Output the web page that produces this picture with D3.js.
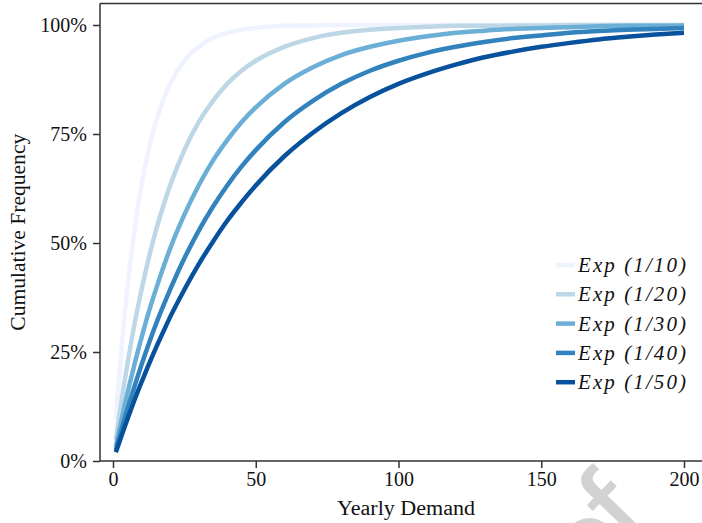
<!DOCTYPE html>
<html>
<head>
<meta charset="utf-8">
<script src="https://cdn.jsdelivr.net/npm/d3@7"></script>
<style>
  html, body { margin: 0; padding: 0; background: #fff; }
  svg { display: block; }
  text { font-family: "Liberation Serif", "DejaVu Serif", serif; fill: #111; }
</style>
</head>
<body>
<svg id="chart" width="702" height="523"></svg>
<script>
// ---- data ----
const demand = [1, 2, 4, 6, 8, 10, 12, 15, 18, 20, 25, 30, 35, 40, 45, 50, 60, 70, 80, 90, 100, 110, 120, 130, 140, 150, 160, 170, 180, 190, 200];
const seriesNames = ["Exp (1/10)", "Exp (1/20)", "Exp (1/30)", "Exp (1/40)", "Exp (1/50)"];
const exp10 = [0.095, 0.181, 0.330, 0.451, 0.551, 0.632, 0.699, 0.777, 0.835, 0.865, 0.918, 0.950, 0.970, 0.982, 0.989, 0.993, 0.998, 0.999, 1.000, 1.000, 1.000, 1.000, 1.000, 1.000, 1.000, 1.000, 1.000, 1.000, 1.000, 1.000, 1.000];
const exp20 = [0.049, 0.095, 0.181, 0.259, 0.330, 0.393, 0.451, 0.528, 0.593, 0.632, 0.713, 0.777, 0.826, 0.865, 0.895, 0.918, 0.950, 0.970, 0.982, 0.989, 0.993, 0.996, 0.998, 0.998, 0.999, 0.999, 1.000, 1.000, 1.000, 1.000, 1.000];
const exp30 = [0.033, 0.064, 0.125, 0.181, 0.234, 0.283, 0.330, 0.393, 0.451, 0.487, 0.565, 0.632, 0.689, 0.736, 0.777, 0.811, 0.865, 0.903, 0.931, 0.950, 0.964, 0.974, 0.982, 0.987, 0.991, 0.993, 0.995, 0.997, 0.998, 0.998, 0.999];
const exp40 = [0.025, 0.049, 0.095, 0.139, 0.181, 0.221, 0.259, 0.313, 0.362, 0.393, 0.465, 0.528, 0.583, 0.632, 0.675, 0.713, 0.777, 0.826, 0.865, 0.895, 0.918, 0.936, 0.950, 0.961, 0.970, 0.976, 0.982, 0.986, 0.989, 0.991, 0.993];
const exp50 = [0.020, 0.039, 0.077, 0.113, 0.148, 0.181, 0.213, 0.259, 0.302, 0.330, 0.393, 0.451, 0.503, 0.551, 0.593, 0.632, 0.699, 0.753, 0.798, 0.835, 0.865, 0.889, 0.909, 0.926, 0.939, 0.950, 0.959, 0.967, 0.973, 0.978, 0.982];
const xTicks = [0, 50, 100, 150, 200];
const yTicks = [0, 0.25, 0.5, 0.75, 1.0];
const colors = ["#eff3ff", "#bdd7e7", "#6baed6", "#3182bd", "#08519c"];

const seriesValues = [exp10, exp20, exp30, exp40, exp50];

// ---- layout ----
const svg = d3.select("#chart");
const plotLeft = 100, plotTop = 3.5, plotBottom = 461, plotRight = 720;

const x = d3.scaleLinear().domain([0, 200]).range([113, 684]);
const y = d3.scaleLinear().domain([0, 1]).range([461, 25]);

// watermark (behind the axes area)
const wm = svg.append("text")
  .attr("transform", "translate(663,531) rotate(-46)")
  .attr("text-anchor", "end")
  .style("font-family", "'Liberation Sans', Arial, sans-serif")
  .style("font-size", "130px")
  .style("fill", "#d2d2d2");
wm.append("tspan").text("Proo");
wm.append("tspan").attr("dx", -8).attr("dy", -4).text("f");

// axes background
svg.append("rect")
  .attr("x", plotLeft).attr("y", plotTop)
  .attr("width", plotRight - plotLeft).attr("height", plotBottom - plotTop)
  .attr("fill", "#fff");

// lines
const line = d3.line()
  .x(d => x(d[0]))
  .y(d => y(d[1]))
  .curve(d3.curveMonotoneX);

seriesValues.forEach((vals, i) => {
  const pts = demand.map((d, j) => [d, vals[j]]);
  svg.append("path")
    .datum(pts)
    .attr("d", line)
    .attr("fill", "none")
    .attr("stroke", colors[i])
    .attr("stroke-width", 4.5)
    .attr("stroke-linecap", "butt")
    .attr("stroke-linejoin", "round");
});

// spines
const spineColor = "#333";
svg.append("line").attr("x1", plotLeft).attr("x2", plotLeft).attr("y1", plotTop).attr("y2", plotBottom)
  .attr("stroke", spineColor).attr("stroke-width", 1.5);
svg.append("line").attr("x1", plotLeft).attr("x2", plotRight).attr("y1", plotBottom).attr("y2", plotBottom)
  .attr("stroke", spineColor).attr("stroke-width", 1.5);
svg.append("line").attr("x1", plotLeft).attr("x2", plotRight).attr("y1", plotTop).attr("y2", plotTop)
  .attr("stroke", spineColor).attr("stroke-width", 1.5);

// x axis
const xAxis = d3.axisBottom(x).tickValues(xTicks).tickSize(7).tickPadding(4).tickFormat(d3.format("d"));
const gx = svg.append("g").attr("transform", `translate(0,${plotBottom})`).call(xAxis);
gx.select(".domain").remove();
gx.selectAll(".tick line").attr("stroke", spineColor).attr("stroke-width", 1.5);
gx.selectAll(".tick text")
  .style("font-family", "'Liberation Serif', serif")
  .style("font-size", "20px").attr("fill", "#111");

// y axis
const yAxis = d3.axisLeft(y).tickValues(yTicks).tickSize(7).tickPadding(6).tickFormat(d3.format(".0%"));
const gy = svg.append("g").attr("transform", `translate(${plotLeft},0)`).call(yAxis);
gy.select(".domain").remove();
gy.selectAll(".tick line").attr("stroke", spineColor).attr("stroke-width", 1.5);
gy.selectAll(".tick text")
  .style("font-family", "'Liberation Serif', serif")
  .style("font-size", "20px").attr("fill", "#111");

// axis labels
svg.append("text")
  .attr("x", 406).attr("y", 515)
  .attr("text-anchor", "middle")
  .style("font-size", "20px")
  .attr("textLength", 138)
  .attr("lengthAdjust", "spacingAndGlyphs")
  .text("Yearly Demand");

svg.append("text")
  .attr("transform", `translate(25,${(plotTop + plotBottom) / 2}) rotate(-90)`)
  .attr("text-anchor", "middle")
  .style("font-size", "20px")
  .attr("textLength", 197)
  .attr("lengthAdjust", "spacingAndGlyphs")
  .text("Cumulative Frequency");

// legend
const legend = svg.append("g");
seriesNames.forEach((name, i) => {
  const ly = 265 + i * 29.3;
  legend.append("line")
    .attr("x1", 556).attr("x2", 575)
    .attr("y1", ly).attr("y2", ly)
    .attr("stroke", colors[i]).attr("stroke-width", 4.5);
  legend.append("text")
    .attr("x", 578).attr("y", ly + 7)
    .style("font-size", "21px")
    .style("font-style", "italic")
    .attr("textLength", 108)
    .attr("lengthAdjust", "spacing")
    .text(name);
});
</script>
</body>
</html>
